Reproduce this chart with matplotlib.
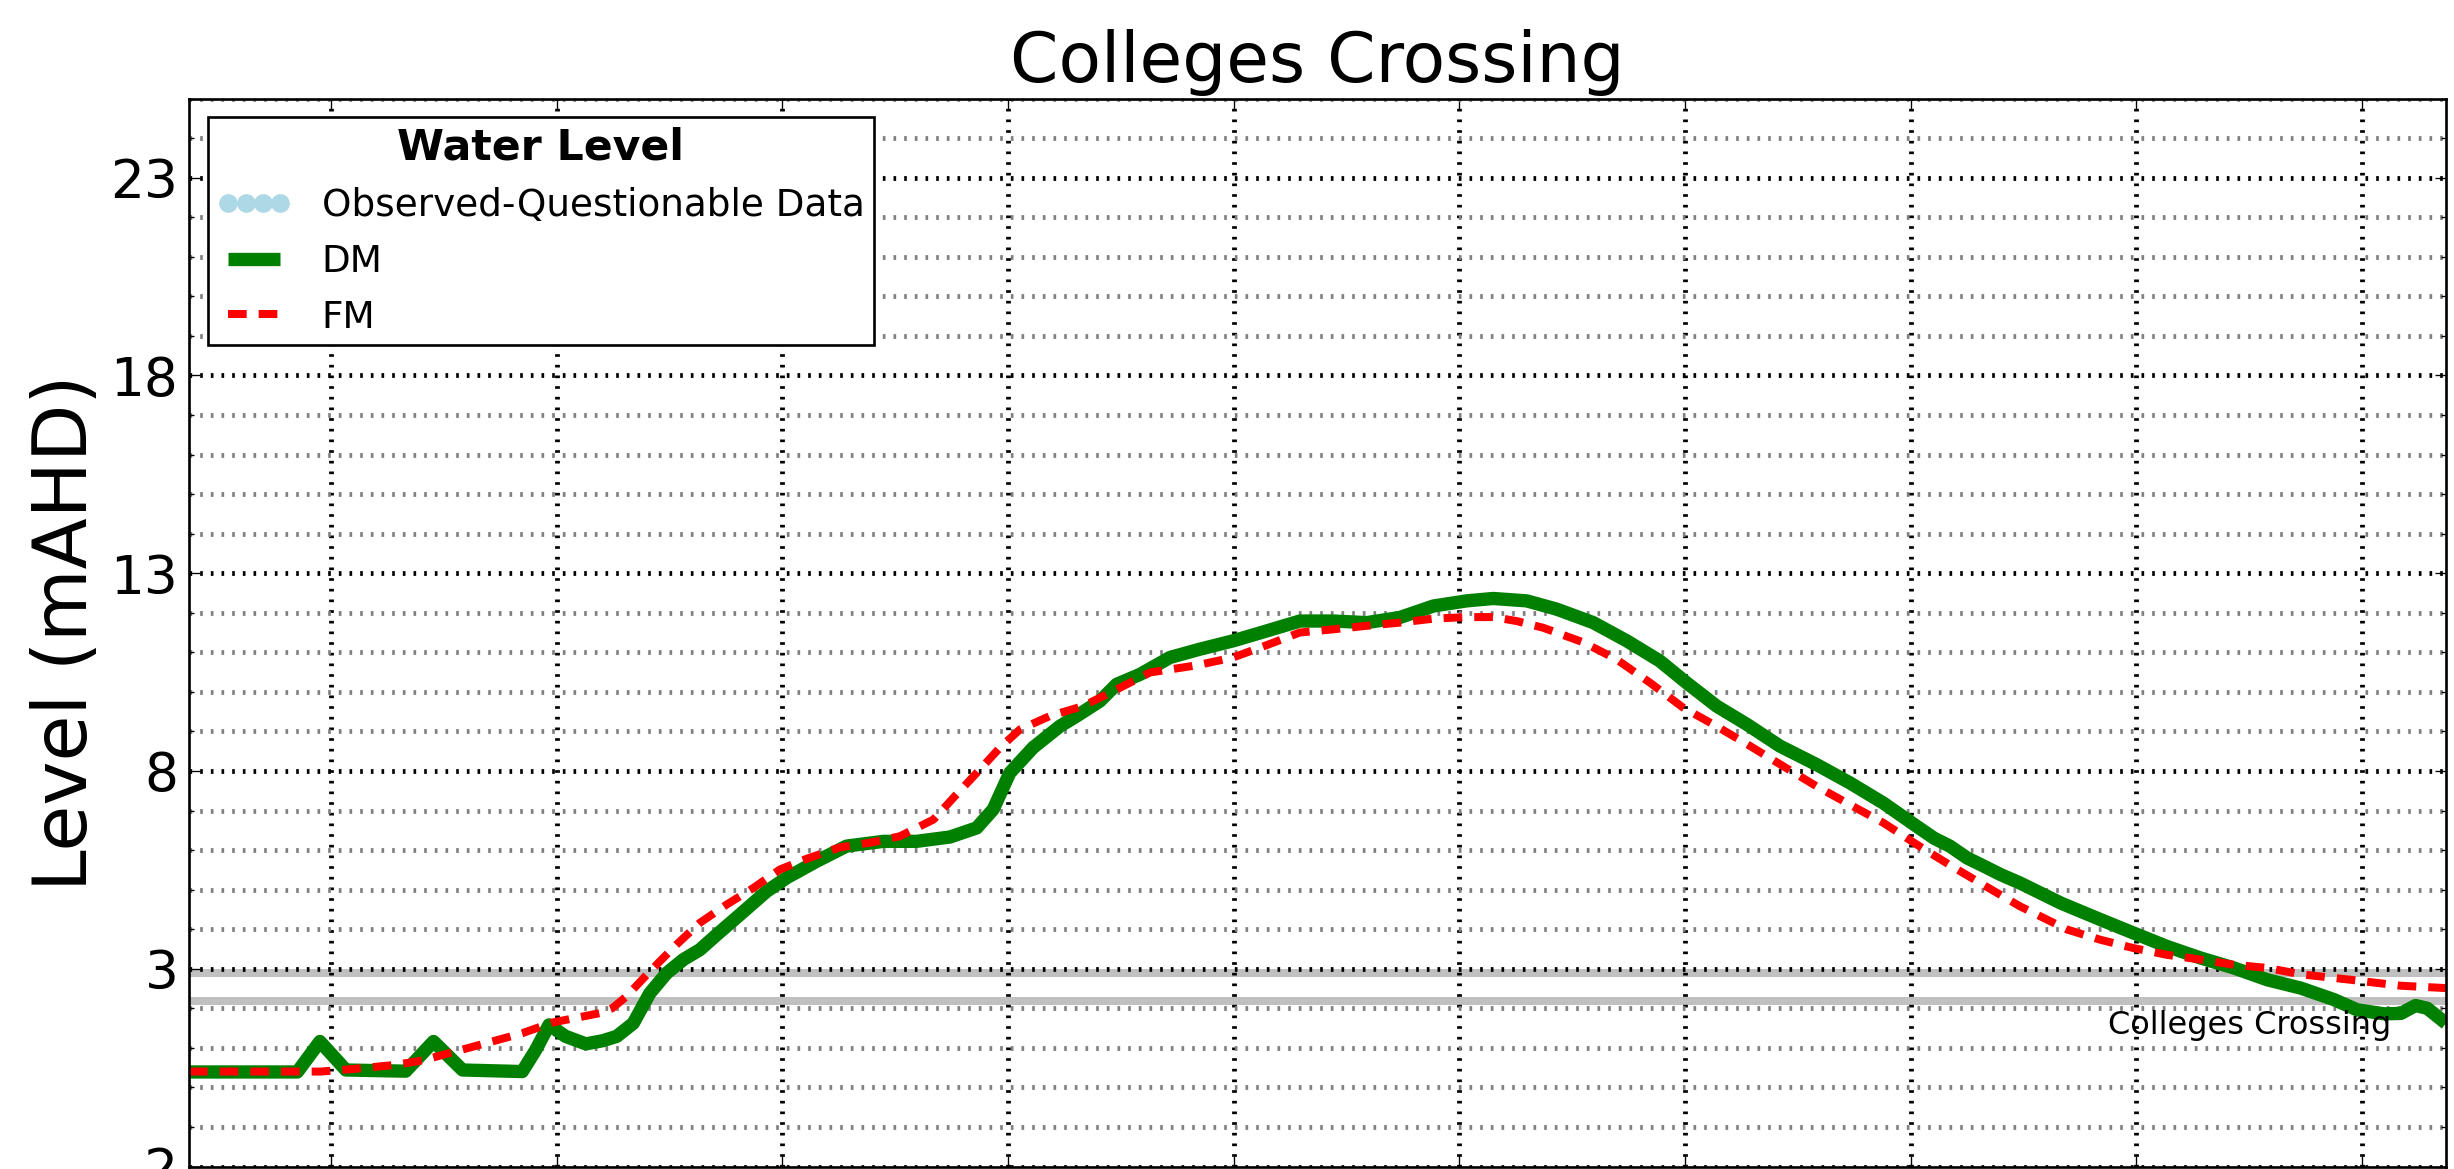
import matplotlib
matplotlib.use("Agg")
import matplotlib.pyplot as plt
import numpy as np

plt.rcParams['font.family'] = ['DejaVu Sans']
plt.rcParams['lines.scale_dashes'] = False

# ---------------- data (hours from start of plotted window, level in mAHD) -------------
dm_hours = [0.0, 2.88, 3.48, 4.17, 5.76, 6.50, 7.27, 8.86, 9.22, 9.57, 10.01, 10.55,
            11.00, 11.37, 11.81, 12.25, 12.70, 13.14, 13.58, 14.03, 14.65, 15.36, 15.89,
            16.69, 17.48, 18.46, 19.34, 20.23, 20.94, 21.38, 21.82, 22.44, 23.15, 23.60,
            24.22, 24.66, 25.28, 26.08, 26.88, 27.76, 28.65, 29.53, 30.42, 31.31, 32.19,
            33.08, 33.97, 34.67, 35.56, 36.36, 37.33, 38.22, 39.10, 39.81, 40.61, 41.41,
            42.29, 43.27, 44.15, 45.04, 45.93, 46.39, 46.81, 47.27, 47.70, 48.16, 48.67,
            49.76, 50.82, 51.70, 52.59, 53.48, 54.36, 55.25, 56.14, 57.02, 57.64, 58.35,
            58.80, 59.19, 59.50, 60.0]
dm_level = [0.39, 0.39, 1.16, 0.44, 0.41, 1.16, 0.44, 0.40, 0.95, 1.58, 1.29, 1.10,
            1.18, 1.29, 1.62, 2.38, 2.89, 3.23, 3.48, 3.86, 4.37, 4.96, 5.30,
            5.72, 6.10, 6.22, 6.22, 6.33, 6.56, 7.03, 7.95, 8.59, 9.13, 9.39,
            9.77, 10.19, 10.44, 10.87, 11.08, 11.29, 11.54, 11.79, 11.79, 11.75, 11.88,
            12.17, 12.30, 12.36, 12.30, 12.09, 11.75, 11.29, 10.78, 10.23, 9.64, 9.18,
            8.63, 8.16, 7.70, 7.19, 6.60, 6.30, 6.10, 5.80, 5.60, 5.38, 5.17,
            4.66, 4.24, 3.90, 3.56, 3.27, 3.02, 2.72, 2.51, 2.22, 1.96, 1.86,
            1.87, 2.07, 2.00, 1.62]

fm_hours = [0.0, 3.50, 4.43, 5.49, 6.20, 7.09, 7.98, 8.86, 9.66, 10.46, 10.93, 11.25,
            11.63, 12.25, 12.96, 13.58, 14.29, 15.00, 15.71, 16.42, 17.31, 18.19, 18.90,
            19.79, 20.32, 20.94, 21.56, 22.09, 22.89, 23.77, 24.66, 25.55, 26.79, 27.76,
            28.65, 29.53, 30.42, 31.31, 32.19, 33.08, 33.97, 34.67, 35.29, 36.00, 37.07,
            37.95, 38.84, 39.72, 40.61, 41.50, 42.38, 43.27, 44.15, 45.04, 45.93, 46.81,
            47.70, 48.67, 49.93, 50.82, 51.70, 52.59, 53.48, 54.36, 55.25, 56.14, 57.47,
            58.80, 60.0]
fm_level = [0.40, 0.40, 0.47, 0.57, 0.68, 0.91, 1.14, 1.37, 1.64, 1.79, 1.88, 2.00,
            2.30, 2.93, 3.61, 4.16, 4.62, 5.04, 5.51, 5.78, 6.07, 6.20, 6.35,
            6.77, 7.32, 7.95, 8.59, 9.05, 9.39, 9.64, 10.06, 10.49, 10.67, 10.87,
            11.18, 11.50, 11.58, 11.67, 11.75, 11.85, 11.89, 11.89, 11.79, 11.62, 11.25,
            10.82, 10.23, 9.60, 9.13, 8.63, 8.12, 7.61, 7.15, 6.69, 6.14, 5.62,
            5.12, 4.58, 3.99, 3.73, 3.52, 3.35, 3.23, 3.10, 3.02, 2.86, 2.72,
            2.57, 2.51]

obs_hours = []   # Observed-Questionable Data: no points in this window
obs_level = []

threshold_levels = [2.88, 2.19]
site_name = "Colleges Crossing"
y_major_ticks = [-2, 3, 8, 13, 18, 23]
x_tick_hours = [3.77 + 6 * k for k in range(10)]

# ---------------- figure ----------------
DPI = 192
fig = plt.figure(figsize=(2454 / DPI, 1169 / DPI), dpi=DPI)
ax = fig.add_axes([189 / 2454, 2.5 / 1169, 2257 / 2454, 1068 / 1169])

for lev in threshold_levels:
    ax.axhline(lev, color='#c0c0c0', lw=3, zorder=1)

ax.plot(obs_hours, obs_level, linestyle='none', marker='o', markersize=6,
        color='lightblue', markeredgecolor='lightblue',
        label='Observed-Questionable Data', zorder=2)
ax.plot(dm_hours, dm_level, color='green', lw=5, label='DM', zorder=2,
        solid_joinstyle='round', solid_capstyle='butt')
ax.plot(fm_hours, fm_level, color='red', lw=3, linestyle=(0, (7, 4.5)),
        label='FM', zorder=2.1)

ax.set_xlim(0, 60)
ax.set_ylim(-2, 25)
ax.set_xticks(x_tick_hours)
ax.set_yticks(y_major_ticks)
ax.set_yticks(np.arange(-2, 25.01, 1), minor=True)
ax.set_yticklabels([str(v) for v in y_major_ticks])

ax.set_axisbelow('line')
grid_ls = (0, (1.0, 3.0))
ax.grid(which='major', axis='both', color='black', linestyle=grid_ls, linewidth=1.8)
ax.grid(which='minor', axis='y', color='gray', linestyle=grid_ls, linewidth=1.8)

ax.tick_params(which='both', direction='in', top=True, right=True)
ax.tick_params(which='major', length=4, width=0.5, pad=4, labelsize=20)
ax.tick_params(which='minor', length=2, width=0.5)
ax.tick_params(axis='x', labelbottom=False)
for sp in ax.spines.values():
    sp.set_linewidth(1.0)

ax.set_title(site_name, fontsize=26, pad=6)
ax.set_ylabel('Level (mAHD)', fontsize=28)
ax.yaxis.set_label_coords(-0.0379, 0.5)

ax.text(58.55, 1.95, site_name, fontsize=12, ha='right', va='top', zorder=3)

leg = ax.legend(loc='upper left', fontsize=14, numpoints=4, title='Water Level',
                title_fontproperties={'weight': 'bold', 'size': 16},
                fancybox=False, framealpha=1, edgecolor='black',
                borderaxespad=0.5, borderpad=0.25)
leg.get_frame().set_linewidth(1.0)

fig.savefig('out.png', dpi=DPI)
